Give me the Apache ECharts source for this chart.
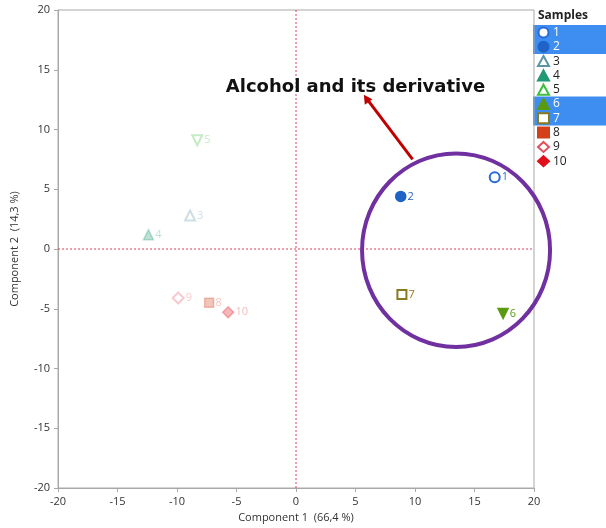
<!DOCTYPE html>
<html><head><meta charset="utf-8">
<script src="https://cdn.jsdelivr.net/npm/echarts@6/dist/echarts.min.js"></script>
<style>html,body{margin:0;padding:0;background:#fff}#c{width:606px;height:528px}</style>
</head><body><div id="c"></div>
<script>
const sampleNames = ['1','2','3','4','5','6','7','8','9','10'];
const comp1 = [16.7, 8.8, -8.9, -12.4, -8.3, 17.4, 8.9, -7.3, -9.9, -5.7];
const comp2 = [6.0, 4.4, 2.8, 1.2, 9.1, -5.4, -3.8, -4.5, -4.1, -5.3];
const symbols = ['emptyCircle','circle','emptyTriangle','triangle','emptyTriangle','triangle','emptyRect','rect','emptyDiamond','diamond'];
const rotations = [0,0,0,0,180,180,0,0,0,0];
const colors = ['#2a6ad8','#1f62c8','#5c93a8','#1f9a74','#3cbf3c','#5a9a10','#8a7a1e','#d4401a','#e0505e','#e0101c'];
const faded = [false,false,true,true,true,false,false,true,true,true];
const highlighted = [true,true,false,false,false,true,true,false,false,false];
const zeroLineX = [[0,-20],[0,20]];
const zeroLineY = [[-20,0],[20,0]];
const annotationText = 'Alcohol and its derivative';

const chart = echarts.init(document.getElementById('c'));
const refLine = {color: '#e0405a', type: [2,2], width: 1};
const series = [
  {type:'line', name:'_zx', data: zeroLineX, symbol:'none', silent:true, lineStyle: refLine, z:1},
  {type:'line', name:'_zy', data: zeroLineY, symbol:'none', silent:true, lineStyle: refLine, z:1}
].concat(sampleNames.map((n,i)=>({
  name: n, type: 'scatter',
  symbol: symbols[i], symbolSize: symbols[i].indexOf('ect')>=0 ? 9 : (symbols[i].indexOf('iamond')>=0?11:10),
  symbolRotate: rotations[i],
  data: [[comp1[i], comp2[i]]],
  itemStyle: {color: colors[i], borderColor: colors[i], borderWidth: 1.5, opacity: faded[i]?0.3:1},
  label: {show: true, position: 'right', distance: 1, formatter: n, color: colors[i], fontSize: 11, fontFamily: 'Open Sans', opacity: faded[i]?0.3:1},
  z: 5
})));
const axisCommon = {
  min: -20, max: 20, interval: 5,
  axisLine: {show: true, onZero: false, lineStyle: {color: '#a8a8a8'}},
  axisTick: {show: true, length: 4, lineStyle: {color: '#a8a8a8'}},
  axisLabel: {color: '#333', fontSize: 11, fontFamily: 'Open Sans'},
  splitLine: {show: false},
  nameLocation: 'middle',
  nameTextStyle: {color: '#333', fontSize: 11, fontFamily: 'Open Sans'}
};
chart.setOption({
  animation: false,
  grid: {left: 58, top: 10, right: 72, bottom: 40, show: true, borderColor: '#a8a8a8', borderWidth: 1},
  xAxis: Object.assign({}, axisCommon, {type: 'value', name: 'Component 1  (66,4 %)', nameGap: 22}),
  yAxis: Object.assign({}, axisCommon, {type: 'value', name: 'Component 2  (14,3 %)', nameGap: 38}),
  legend: {
    orient: 'vertical', left: 537, top: 26, padding: 0, itemWidth: 11, itemHeight: 10, itemGap: 1.3,
    textStyle: {fontSize: 12, lineHeight: 13, fontFamily: 'Open Sans', color: '#222', padding: [0,0,0,-1]},
    data: sampleNames.map((n,i)=>({name: n, itemStyle: {opacity: 1},
      textStyle: {color: highlighted[i] ? '#ffffff' : '#222'}}))
  },
  series: series
});

function px(x,y){ return chart.convertToPixel({gridIndex:0},[x,y]); }
const c = px(13.45, -0.1), e = px(13.45+7.9, -0.1+8.1);
const a0 = px(9.8, 7.5), a1 = px(5.7, 12.9), t = px(5.0, 13.55);
chart.setOption({
  graphic: [
    {type:'rect', z:-1, shape:{x:533, y:25, width:73, height:29}, style:{fill:'#3d8ef0'}},
    {type:'rect', z:-1, shape:{x:533, y:96.5, width:73, height:29}, style:{fill:'#3d8ef0'}},
    {type:'text', left: 538, top: 10, style:{text:'Samples', font:'bold 12px "Open Sans"', fill:'#222'}},
    {type:'ellipse', z:20, shape:{cx:c[0], cy:c[1], rx:e[0]-c[0], ry:c[1]-e[1]}, style:{fill:'none', stroke:'#7030a0', lineWidth:4}},
    {type:'line', z:20, shape:{x1:a0[0], y1:a0[1], x2:a1[0]+4, y2:a1[1]+5.3}, style:{stroke:'#c00000', lineWidth:3}},
    {type:'polygon', z:20, shape:{points:[[a1[0],a1[1]],[a1[0]+1,a1[1]+10],[a1[0]+8.5,a1[1]+4.5]]}, style:{fill:'#c00000'}},
    {type:'text', z:20, x:t[0], y:t[1], style:{text:annotationText, font:'bold 18px "DejaVu Sans"', fill:'#111', align:'center', verticalAlign:'middle'}}
  ]
});
</script></body></html>
